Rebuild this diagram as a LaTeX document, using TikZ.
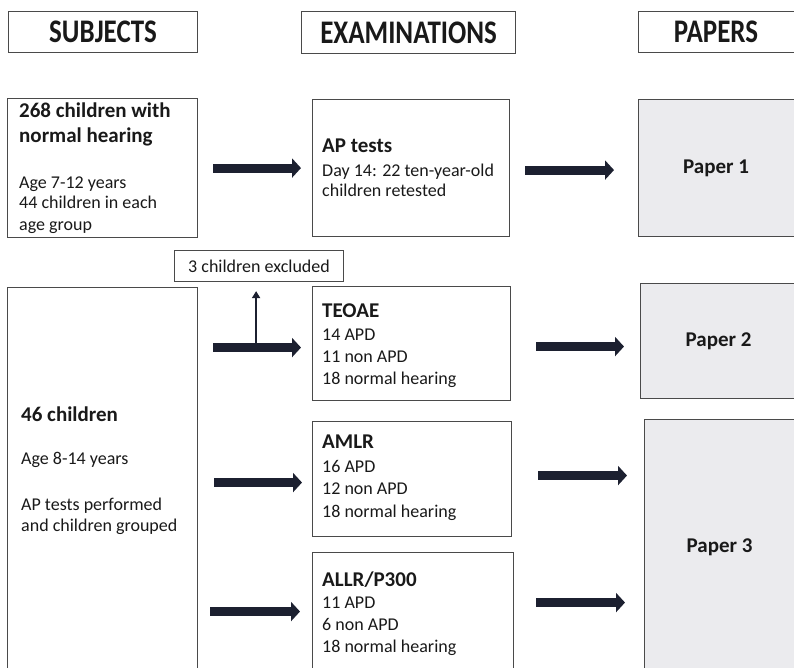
\documentclass[tikz,border=0pt]{standalone}
\usepackage{fontspec}
\setmainfont{Carlito}
\usetikzlibrary{arrows.meta,calc}
\definecolor{arrowc}{HTML}{1C2030}
\definecolor{paperfill}{HTML}{EBEBEE}
\definecolor{edgec}{HTML}{4A4A4A}
\begin{document}
\begin{tikzpicture}[x=1pt,y=-1pt,
  box/.style={draw=edgec, line width=1.1pt, inner sep=0pt, anchor=north west},
  paperbox/.style={box, fill=paperfill, font=\fontsize{21}{24}\selectfont\bfseries, text=black!90},
  hdr/.style={box, font=\fontsize{27}{30}\selectfont\bfseries, text=black!90},
  ttl/.style={inner sep=0pt, anchor=base west, align=left, font=\fontsize{21}{25}\selectfont\bfseries, text=black!90},
  body/.style={inner sep=0pt, anchor=base west, align=left, font=\fontsize{18}{22}\selectfont, text=black!90},
  bigarrow/.style={draw=arrowc, line width=9pt, -{Triangle[length=9pt,width=19pt]}},
  thinarrow/.style={draw=arrowc, line width=2.4pt, -{Triangle[length=7pt,width=8pt]}}
]
\useasboundingbox (0,0) rectangle (794,668);
\clip (0,0) rectangle (794,668);

% headers
\node[hdr, minimum width=189pt, minimum height=41pt] (subj) at (8,11) {\scalebox{1}[1.22]{SUBJECTS}};
\node[hdr, minimum width=214pt, minimum height=42pt] (exam) at (301,11) {\scalebox{1}[1.22]{EXAMINATIONS}};
\node[hdr, minimum width=170pt, minimum height=41pt] (pap) at (638,11) {\hspace*{-15pt}\scalebox{1}[1.22]{PAPERS}};

% row 1
\node[box, minimum width=190pt, minimum height=139pt] (b268) at (7,98) {};
\node[ttl] (b268t) at (19,143) {268 children with\\normal hearing};
\node[body, font=\fontsize{18}{21}\selectfont] (b268b) at (19,230) {Age 7-12 years\\44 children in each\\age group};

\node[box, minimum width=197pt, minimum height=137pt] (ap) at (312,99) {};
\node[ttl] (apt) at (322,153) {AP tests};
\node[body, font=\fontsize{18}{20.5}\selectfont] (apb) at (322,197) {Day 14: 22 ten-year-old\\children retested};

\node[paperbox, minimum width=170pt, minimum height=137pt] (p1) at (638,99) {\hspace*{-15pt}Paper 1};

% excluded
\node[box, minimum width=169pt, minimum height=31pt, font=\fontsize{18}{22}\selectfont, text=black!90] (excl) at (174,250) {3 children excluded};

% row 2
\node[box, minimum width=190pt, minimum height=400pt] (b46) at (7,287) {};
\node[ttl] (b46t) at (21,421) {46 children};
\node[body] (b46b) at (21,464) {Age 8-14 years};
\node[body, font=\fontsize{18}{21}\selectfont] (b46c) at (21,531) {AP tests performed\\and children grouped};

\node[box, minimum width=198pt, minimum height=114pt] (teo) at (312,286) {};
\node[ttl] (teot) at (322,317) {TEOAE};
\node[body] (teob) at (322,384) {14 APD\\11 non APD\\18 normal hearing};

\node[paperbox, minimum width=170pt, minimum height=115pt] (p2) at (640,283) {\hspace*{-14pt}Paper 2};

\node[box, minimum width=199pt, minimum height=115pt] (amlr) at (312,421) {};
\node[ttl] (amlrt) at (322,448) {AMLR};
\node[body, font=\fontsize{18}{22.5}\selectfont] (amlrb) at (322,517) {16 APD\\12 non APD\\18 normal hearing};

\node[box, minimum width=201pt, minimum height=130pt] (allr) at (312,552) {};
\node[ttl] (allrt) at (322,586) {ALLR/P300};
\node[body] (allrb) at (322,652) {11 APD\\6 non APD\\18 normal hearing};

\node[paperbox, minimum width=170pt, minimum height=255pt] (p3) at (644,419) {\hspace*{-20pt}Paper 3};

% arrows
\draw[bigarrow, shorten <=15pt, shorten >=11pt] (b268.east) -- (ap.west);
\draw[bigarrow, shorten <=15pt, shorten >=24pt] ([yshift=-2pt]ap.east) coordinate (a1) -- (a1 -| p1.west);

\draw[bigarrow, shorten <=15pt, shorten >=11pt] ([yshift=-4pt]b46.east |- teo.west) coordinate (s2) -- (s2 -| teo.west);
\coordinate (j) at ($(s2)+(58,0)$);
\draw[thinarrow, shorten >=9pt] (j) -- (j |- excl.south);
\draw[bigarrow, shorten <=25pt, shorten >=16pt] ([yshift=-3pt]teo.east) coordinate (a2) -- (a2 -| p2.west);

\draw[bigarrow, shorten <=16pt, shorten >=10pt] ([yshift=-3.5pt]b46.east |- amlr.west) coordinate (s3) -- (s3 -| amlr.west);
\draw[bigarrow, shorten <=26pt, shorten >=17pt] ([yshift=3.5pt]amlr.east) coordinate (a3) -- (a3 -| p3.west);

\draw[bigarrow, shorten <=12pt, shorten >=12pt] ([yshift=6pt]b46.east |- allr.west) coordinate (s4) -- (s4 -| allr.west);
\draw[bigarrow, shorten <=22pt, shorten >=19pt] ([yshift=15pt]allr.east) coordinate (a4) -- (a4 -| p3.west);
\end{tikzpicture}
\end{document}
